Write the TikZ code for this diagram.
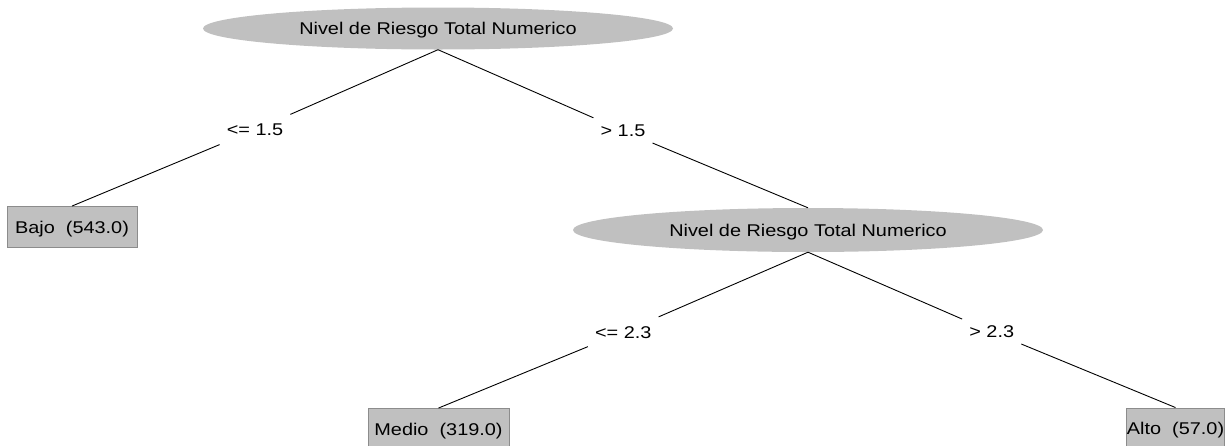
\documentclass[tikz,border=0pt]{standalone}
\usepackage{fontspec}
\setmainfont[FakeStretch=1.17]{Liberation Sans}
\usetikzlibrary{shapes.geometric}
\definecolor{nodegray}{HTML}{C0C0C0}
\definecolor{edgegray}{HTML}{8C8C8C}
\tikzset{
  lbl/.style={font=\fontsize{17}{20}\selectfont, text=black, text depth=0pt},
  split/.style={lbl, ellipse, fill=nodegray, minimum width=470pt, minimum height=42pt, inner sep=0pt},
  leaf/.style={lbl, rectangle, fill=nodegray, draw=edgegray, line width=0.9pt, inner sep=0pt},
  cond/.style={lbl, inner xsep=7pt, inner ysep=0pt, minimum height=36pt, yshift=-2pt},
  edge/.style={draw=black, line width=0.9pt}
}
\begin{document}
\begin{tikzpicture}[x=1pt,y=-1pt]
\useasboundingbox (0,0) rectangle (1225,445);
\node[split] (r) at (438,28.5) {Nivel de Riesgo Total Numerico};
\node[split, minimum height=44pt] (s) at (808,230) {Nivel de Riesgo Total Numerico};
\node[leaf, minimum width=130pt, minimum height=41pt] (bajo) at (72,227) {Bajo\ \ (543.0)};
\node[leaf, minimum width=141pt, minimum height=41pt] (medio) at (438.5,429) {Medio\ \ (319.0)};
\node[leaf, minimum width=95pt, minimum height=41pt] (alto) at (1175.5,428.5) {Alto\ \ (57.0)};
\path (r.south) -- (bajo.north) node[cond, midway] (c1) {<= 1.5};
\path (r.south) -- (s.north) node[cond, midway] (c2) {> 1.5};
\path (s.south) -- (medio.north) node[cond, midway] (c3) {<= 2.3};
\path (s.south) -- (alto.north) node[cond, midway] (c4) {> 2.3};
\draw[edge] (r.south) -- (c1) -- (bajo.north);
\draw[edge] (r.south) -- (c2) -- (s.north);
\draw[edge] (s.south) -- (c3) -- (medio.north);
\draw[edge] (s.south) -- (c4) -- (alto.north);
\end{tikzpicture}
\end{document}
